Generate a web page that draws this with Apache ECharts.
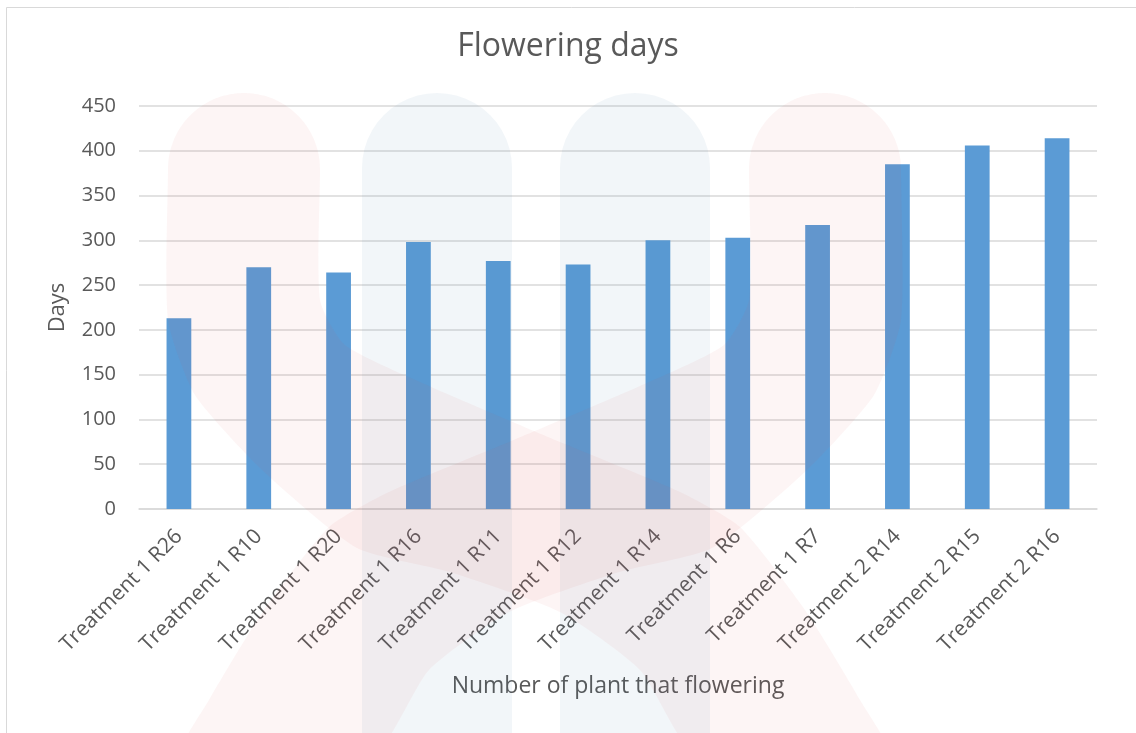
<!DOCTYPE html>
<html>
<head>
<meta charset="utf-8">
<title>Flowering days</title>
<script src="https://cdn.jsdelivr.net/npm/echarts/dist/echarts.min.js"></script>
<style>
    html, body {margin: 0; padding: 0; background: #fff;}
    #chart {width: 1136px; height: 733px;}
</style>
</head>
<body>
<div id="chart"></div>
<script>
// data
var categories = ['Treatment 1 R26', 'Treatment 1 R10', 'Treatment 1 R20', 'Treatment 1 R16',
    'Treatment 1 R11', 'Treatment 1 R12', 'Treatment 1 R14', 'Treatment 1 R6', 'Treatment 1 R7',
    'Treatment 2 R14', 'Treatment 2 R15', 'Treatment 2 R16'];
var days = [213, 270, 264, 298, 277, 273, 300, 303, 317, 385, 406, 414];
var yMin = 0, yMax = 450, yStep = 50;

var textColor = '#595959';
var font = '"Open Sans", "Noto Sans", sans-serif';

// faint logo in the background (decoration only)
function arc(cx, cy, r) {
    var pts = [];
    for (var i = 0; i <= 24; i++) {
        var a = Math.PI - Math.PI * i / 24;
        pts.push([cx + r * Math.cos(a), cy - r * Math.sin(a)]);
    }
    return pts;
}
function pill(cx, top, r, bottom) {
    var pts = arc(cx, top + r, r);
    pts.push([cx + r, bottom], [cx - r, bottom]);
    return pts;
}
var leftBand = arc(244, 169, 76).concat([
    [320, 300], [345, 345], [420, 382], [560, 442], [680, 492], [740, 527],
    [805, 610], [860, 700], [890, 760], [700, 760], [640, 670], [560, 612],
    [450, 572], [357, 548], [262, 470], [195, 395], [168, 320]
]);
var rightBand = leftBand.map(function (p) { return [1069 - p[0], p[1]]; });

var red = 'rgba(222,77,77,0.06)';
var blue = 'rgba(66,122,177,0.07)';

var option = {
    backgroundColor: '#fff',
    textStyle: {fontFamily: font},
    title: {
        text: 'Flowering days',
        left: 'center',
        top: 26,
        textStyle: {color: textColor, fontSize: 32, fontWeight: 'normal', fontFamily: font}
    },
    grid: {left: 139, right: 39, top: 106, bottom: 224},
    xAxis: {
        type: 'category',
        data: categories,
        name: 'Number of plant that flowering',
        nameLocation: 'middle',
        nameGap: 166,
        nameTextStyle: {color: textColor, fontSize: 23, fontFamily: font},
        axisLine: {show: true, lineStyle: {color: '#D9D9D9', width: 1.5}},
        axisTick: {show: false},
        axisLabel: {
            interval: 0,
            rotate: 45,
            margin: 24,
            color: textColor,
            fontSize: 21,
            fontFamily: font
        }
    },
    yAxis: {
        type: 'value',
        min: yMin,
        max: yMax,
        interval: yStep,
        name: 'Days',
        nameLocation: 'middle',
        nameGap: 70,
        nameTextStyle: {color: textColor, fontSize: 22, fontFamily: font},
        axisLine: {show: false},
        axisTick: {show: false},
        axisLabel: {color: textColor, fontSize: 20, margin: 23, fontFamily: font},
        splitLine: {lineStyle: {color: '#D9D9D9', width: 1.5}}
    },
    series: [
        {
            type: 'bar',
            barWidth: '31%',
            itemStyle: {color: '#5B9BD5'},
            data: days
        }
    ],
    graphic: [
        {type: 'rect', silent: true, z: -1,
            shape: {x: 6.5, y: 7.5, width: 1140, height: 740},
            style: {fill: 'none', stroke: '#D9D9D9', lineWidth: 1}},
        {type: 'polygon', silent: true, z: 100, shape: {points: pill(437, 93, 75, 760)}, style: {fill: blue}},
        {type: 'polygon', silent: true, z: 100, shape: {points: pill(635, 93, 75, 760)}, style: {fill: blue}},
        {type: 'polygon', silent: true, z: 101, shape: {points: leftBand, smooth: 0.2}, style: {fill: red}},
        {type: 'polygon', silent: true, z: 101, shape: {points: rightBand, smooth: 0.2}, style: {fill: red}}
    ]
};

var myChart = echarts.init(document.getElementById('chart'));
myChart.setOption(option);
</script>
</body>
</html>
